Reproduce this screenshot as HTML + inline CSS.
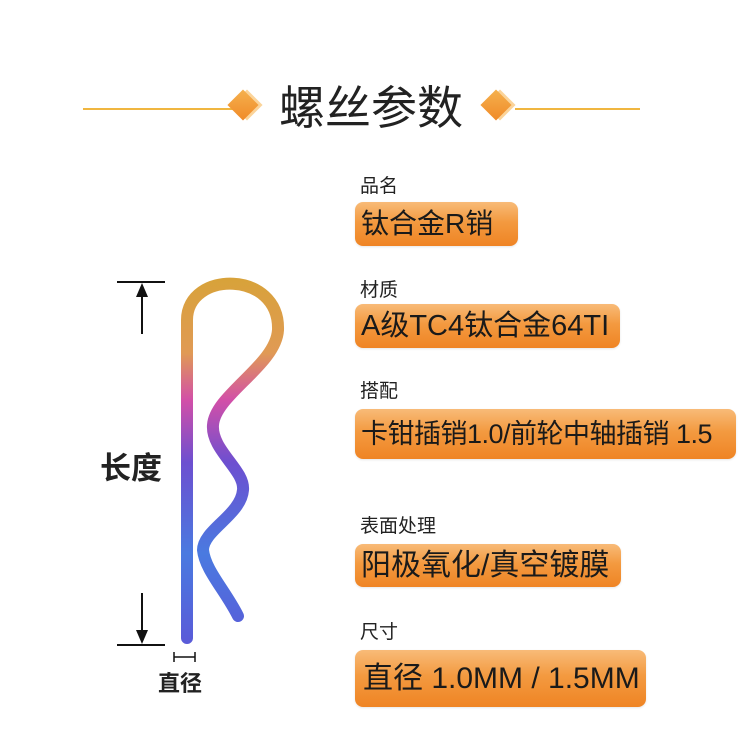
<!DOCTYPE html>
<html><head><meta charset="utf-8"><style>
body{margin:0;width:750px;height:742px;background:#fff;position:relative;overflow:hidden;font-family:"Liberation Sans","Noto Sans CJK SC",sans-serif;}
.a{position:absolute;}
.lbl{position:absolute;left:360px;font-size:19px;color:#222;line-height:1;}
.box{position:absolute;left:355px;border-radius:8px;background:linear-gradient(#f8bb78,#f39a40 45%,#ef8424);color:#1a1a1a;font-size:29px;line-height:1;padding-left:6px;box-sizing:border-box;display:flex;align-items:center;white-space:nowrap;box-shadow:0 1px 2px rgba(0,0,0,.1);}
</style></head><body>
<div class="a" style="left:83px;top:108px;width:150px;height:2px;background:#f0b640"></div>
<div class="a" style="left:515px;top:108px;width:125px;height:2px;background:#f0b640"></div>
<div class="a" style="left:236px;top:94px;width:22px;height:22px;transform:rotate(45deg);background:#fbd49a"></div>
<div class="a" style="left:232px;top:94px;width:22px;height:22px;transform:rotate(45deg);background:linear-gradient(135deg,#f5b14e,#f08a28)"></div>
<div class="a" style="left:489px;top:94px;width:22px;height:22px;transform:rotate(45deg);background:#fbd49a"></div>
<div class="a" style="left:485px;top:94px;width:22px;height:22px;transform:rotate(45deg);background:linear-gradient(135deg,#f5b14e,#f08a28)"></div>
<div class="a" style="left:256px;top:82px;width:230px;text-align:center;font-size:46px;line-height:52px;color:#222;">螺丝参数</div>

<div class="lbl" style="top:177px">品名</div>
<div class="box" style="top:202px;width:163px;height:44px;font-size:28px">钛合金R销</div>
<div class="lbl" style="top:281px">材质</div>
<div class="box" style="top:304px;width:265px;height:44px">A级TC4钛合金64TI</div>
<div class="lbl" style="top:382px">搭配</div>
<div class="box" style="top:409px;width:381px;height:50px;font-size:27px;letter-spacing:-0.5px">卡钳插销1.0/前轮中轴插销 1.5</div>
<div class="lbl" style="top:517px">表面处理</div>
<div class="box" style="top:544px;width:266px;height:43px;font-size:30px">阳极氧化/真空镀膜</div>
<div class="lbl" style="top:623px">尺寸</div>
<div class="box" style="top:650px;width:291px;height:57px;font-size:30px;padding-left:8px">直径 1.0MM / 1.5MM</div>

<svg class="a" style="left:0;top:0" width="350" height="742">
<defs><linearGradient id="g" x1="0" y1="280" x2="0" y2="645" gradientUnits="userSpaceOnUse">
<stop offset="0" stop-color="#d8a23a"/><stop offset="0.2" stop-color="#e09a55"/><stop offset="0.33" stop-color="#d24fa8"/><stop offset="0.5" stop-color="#6d4fd0"/><stop offset="0.75" stop-color="#4a7ae0"/><stop offset="1" stop-color="#5a5ad8"/></linearGradient></defs>
<path d="M187,638 L187,320 C187,270 280,270 278,330 C276,365 215,395 213,425 C211,450 245,470 243,490 C241,515 203,530 203,550 C205,570 225,590 238,616" fill="none" stroke="url(#g)" stroke-width="12" stroke-linecap="round" stroke-linejoin="round"/>
<g stroke="#111" stroke-width="2" fill="#111">
<line x1="117" y1="282" x2="165" y2="282"/><line x1="142" y1="334" x2="142" y2="292"/>
<polygon points="142,283 136,297 148,297" stroke="none"/>
<line x1="117" y1="645" x2="165" y2="645"/><line x1="142" y1="593" x2="142" y2="634"/>
<polygon points="142,644 136,630 148,630" stroke="none"/>
<line x1="174" y1="657" x2="195" y2="657" stroke-width="1.5"/><line x1="174" y1="652" x2="174" y2="662" stroke-width="1.5"/><line x1="195" y1="652" x2="195" y2="662" stroke-width="1.5"/>
</g>
</svg>
<div class="a" style="left:100px;top:453px;font-size:31px;font-weight:bold;color:#222;line-height:1">长度</div>
<div class="a" style="left:158px;top:673px;font-size:22px;font-weight:bold;color:#222;line-height:1">直径</div>
</body></html>
